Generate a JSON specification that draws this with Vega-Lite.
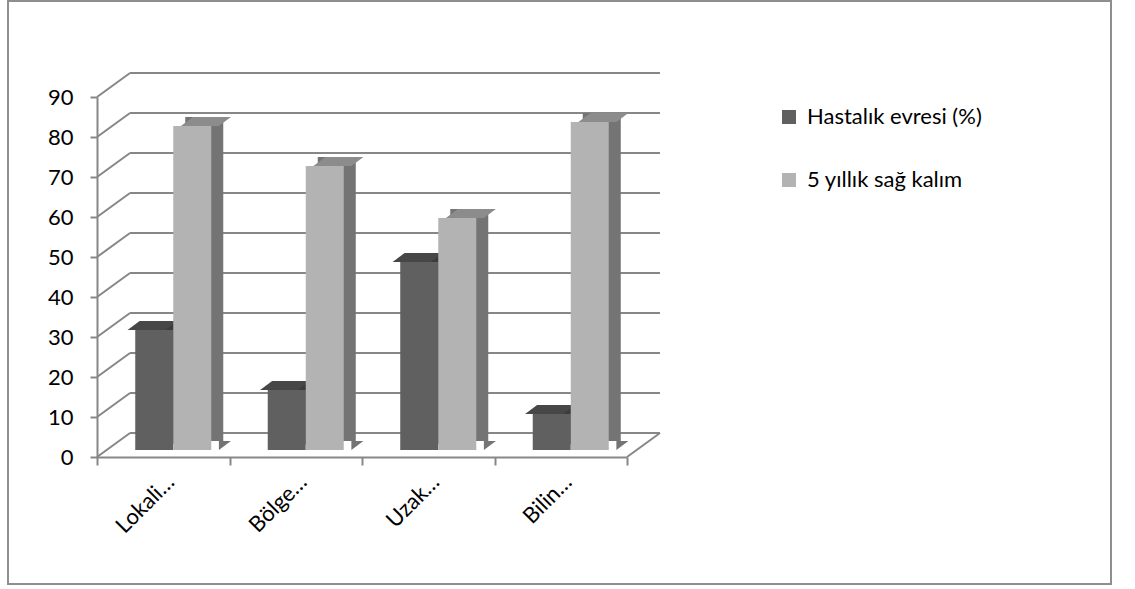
{
  "$schema": "https://vega.github.io/schema/vega-lite/v6.json",
  "width": 1103,
  "height": 583,
  "autosize": {"type": "none"},
  "padding": {"left": 8, "top": 1, "right": 24, "bottom": 5},
  "background": "white",
  "config": {
    "view": {"stroke": "#8e8e8e", "strokeWidth": 2},
    "font": "Lato"
  },
  "datasets": {
    "bars": [
      {"cat": "Lokali…", "series": "Hastalık evresi (%)", "value": 30},
      {"cat": "Lokali…", "series": "5 yıllık sağ kalım", "value": 81},
      {"cat": "Bölge…", "series": "Hastalık evresi (%)", "value": 15},
      {"cat": "Bölge…", "series": "5 yıllık sağ kalım", "value": 71},
      {"cat": "Uzak…", "series": "Hastalık evresi (%)", "value": 47},
      {"cat": "Uzak…", "series": "5 yıllık sağ kalım", "value": 58},
      {"cat": "Bilin…", "series": "Hastalık evresi (%)", "value": 9},
      {"cat": "Bilin…", "series": "5 yıllık sağ kalım", "value": 82}
    ],
    "grid": [
      {"v": 0}, {"v": 10}, {"v": 20}, {"v": 30}, {"v": 40},
      {"v": 50}, {"v": 60}, {"v": 70}, {"v": 80}, {"v": 90}
    ]
  },
  "resolve": {"scale": {"x": "independent", "xOffset": "independent"}, "axis": {"y": "independent"}},
  "layer": [
    {
      "data": {"name": "grid"},
      "mark": {"type": "rule", "color": "#878787", "strokeWidth": 2, "xOffset": 33, "x2Offset": 33, "yOffset": -24, "y2Offset": -24},
      "encoding": {
        "x": {"datum": 0, "type": "quantitative", "scale": {"type": "linear", "domain": [0, 4], "range": [89, 619], "nice": false, "zero": false}, "axis": null},
        "x2": {"datum": 4},
        "y": {"field": "v", "type": "quantitative", "scale": {"domain": [0, 90], "range": [456, 96], "nice": false}, "axis": null}
      }
    },
    {
      "data": {"name": "grid"},
      "mark": {"type": "rule", "color": "#878787", "strokeWidth": 2, "x2Offset": 33, "y2Offset": -24},
      "encoding": {
        "x": {"datum": 0, "type": "quantitative", "scale": {"type": "linear", "domain": [0, 4], "range": [89, 619], "nice": false, "zero": false}, "axis": null},
        "x2": {"datum": 0},
        "y": {"field": "v", "type": "quantitative", "scale": {"domain": [0, 90], "range": [456, 96], "nice": false}, "axis": null},
        "y2": {"field": "v"}
      }
    },
    {
      "data": {"name": "grid"},
      "transform": [{"filter": "datum.v == 0"}],
      "mark": {"type": "rule", "color": "#878787", "strokeWidth": 2, "x2Offset": 33, "y2Offset": -24},
      "encoding": {
        "x": {"datum": 4, "type": "quantitative", "scale": {"type": "linear", "domain": [0, 4], "range": [89, 619], "nice": false, "zero": false}, "axis": null},
        "x2": {"datum": 4},
        "y": {"field": "v", "type": "quantitative", "scale": {"domain": [0, 90], "range": [456, 96], "nice": false}, "axis": null},
        "y2": {"field": "v"}
      }
    },
    {
      "data": {"name": "bars"},
      "mark": {"type": "bar", "yOffset": -16, "y2Offset": -16, "strokeWidth": 0},
      "encoding": {
        "x": {"field": "cat", "type": "nominal", "scale": {"domain": ["Lokali…", "Bölge…", "Uzak…", "Bilin…"], "range": [89, 619], "paddingInner": 0, "paddingOuter": 0}, "axis": null},
        "xOffset": {"field": "series", "type": "nominal", "scale": {"domain": ["Hastalık evresi (%)", "5 yıllık sağ kalım"], "range": [22, 154.5], "paddingInner": 0, "paddingOuter": 0.743}},
        "y": {"field": "value", "type": "quantitative", "scale": {"domain": [0, 90], "range": [456, 96], "nice": false}, "axis": null},
        "color": {"condition": {"test": "datum.series === 'Hastalık evresi (%)'", "value": "#3c3c3c"}, "value": "#747474"}
      }
    },
    {
      "data": {"name": "bars"},
      "mark": {"type": "point", "shape": "M 1 0 L 1 -0.474 L 1.632 -0.474 Z", "size": 1444, "filled": true, "opacity": 1, "strokeWidth": 0, "yOffset": -7},
      "encoding": {
        "x": {"field": "cat", "type": "nominal", "scale": {"domain": ["Lokali…", "Bölge…", "Uzak…", "Bilin…"], "range": [89, 619], "paddingInner": 0, "paddingOuter": 0}, "axis": null},
        "xOffset": {"field": "series", "type": "nominal", "scale": {"domain": ["Hastalık evresi (%)", "5 yıllık sağ kalım"], "range": [10, 142.5], "paddingInner": 0, "paddingOuter": 0.743}},
        "y": {"datum": 0, "type": "quantitative", "scale": {"domain": [0, 90], "range": [456, 96], "nice": false}, "axis": null},
        "color": {"condition": {"test": "datum.series === 'Hastalık evresi (%)'", "value": "#3c3c3c"}, "value": "#747474"}
      }
    },
    {
      "data": {"name": "bars"},
      "mark": {"type": "point", "shape": "M -1 0 L 1 0 L 1.632 -0.474 L -0.368 -0.474 Z", "size": 1444, "filled": true, "opacity": 1, "strokeWidth": 0, "yOffset": -7},
      "encoding": {
        "x": {"field": "cat", "type": "nominal", "scale": {"domain": ["Lokali…", "Bölge…", "Uzak…", "Bilin…"], "range": [89, 619], "paddingInner": 0, "paddingOuter": 0}, "axis": null},
        "xOffset": {"field": "series", "type": "nominal", "scale": {"domain": ["Hastalık evresi (%)", "5 yıllık sağ kalım"], "range": [10, 142.5], "paddingInner": 0, "paddingOuter": 0.743}},
        "y": {"field": "value", "type": "quantitative", "scale": {"domain": [0, 90], "range": [456, 96], "nice": false}, "axis": null},
        "color": {"condition": {"test": "datum.series === 'Hastalık evresi (%)'", "value": "#474747"}, "value": "#8c8c8c"}
      }
    },
    {
      "data": {"name": "bars"},
      "mark": {"type": "bar", "yOffset": -7, "y2Offset": -7, "strokeWidth": 0},
      "encoding": {
        "x": {
          "field": "cat", "type": "nominal",
          "scale": {"domain": ["Lokali…", "Bölge…", "Uzak…", "Bilin…"], "range": [89, 619], "paddingInner": 0, "paddingOuter": 0},
          "axis": {
            "orient": "bottom", "offset": -127, "title": null, "tickBand": "extent",
            "domainColor": "#878787", "domainWidth": 2, "tickColor": "#878787", "tickWidth": 2, "tickSize": 8,
            "labelAngle": -45, "labelAlign": "right", "labelBaseline": "top", "labelFont": "Lato",
            "labelFontSize": 22, "labelColor": "#000000", "labelPadding": 6
          }
        },
        "xOffset": {"field": "series", "type": "nominal", "scale": {"domain": ["Hastalık evresi (%)", "5 yıllık sağ kalım"], "range": [10, 142.5], "paddingInner": 0, "paddingOuter": 0.743}},
        "y": {
          "field": "value", "type": "quantitative",
          "scale": {"domain": [0, 90], "range": [456, 96], "nice": false},
          "axis": {
            "orient": "left", "values": [0, 10, 20, 30, 40, 50, 60, 70, 80, 90], "offset": -89, "title": null, "grid": false,
            "domainColor": "#878787", "domainWidth": 2, "tickColor": "#878787", "tickWidth": 2, "tickSize": 7,
            "labelFont": "Lato", "labelFontSize": 22, "labelColor": "#000000", "labelPadding": 17
          }
        },
        "color": {
          "field": "series", "type": "nominal",
          "scale": {"domain": ["Hastalık evresi (%)", "5 yıllık sağ kalım"], "range": ["#606060", "#b3b3b3"]},
          "legend": {
            "orient": "none", "legendX": 770, "legendY": 105, "title": null, "padding": 0,
            "symbolType": "square", "symbolSize": 196, "symbolStrokeWidth": 0,
            "labelFont": "Lato", "labelFontSize": 22, "labelColor": "#000000", "labelOffset": 7, "rowPadding": 41, "labelLimit": 400
          }
        }
      }
    }
  ]
}
